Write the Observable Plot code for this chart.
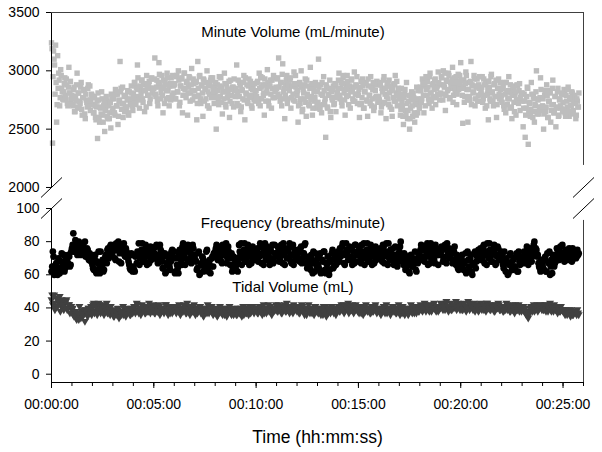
<!DOCTYPE html>
<html><head><meta charset="utf-8">
<script src="https://cdn.jsdelivr.net/npm/d3@7"></script>
<script src="https://cdn.jsdelivr.net/npm/@observablehq/plot@0.6"></script>
<style>body{margin:0;background:#fff}</style>
</head><body><div id="chart"></div>
<script>
// sampling: series A starts at 0 s, series B is offset by half a step
const mvStep = 3;
const brStep = 4;

// Minute Volume (mL/minute), A: every 3 s from 0 s
const minuteVolume = [
3240,2380,3170,3050,3220,2560,3130,2980,2700,3010,2850,2760,2820,2940,2760,2880,2700,3030,2810,2750,
2790,2700,2860,2650,2740,2980,2810,2680,2720,2900,2620,2770,2840,2590,2750,2690,2880,2730,2660,2800,
2710,2640,2780,2600,2690,2420,2750,2560,2680,2820,2620,2700,2480,2660,2740,2590,2700,2640,2510,2760,
2680,2760,2620,2800,2700,2540,2740,3080,2850,2720,2600,2780,2690,2660,2750,2640,2820,2730,2870,2700,
2800,2900,2740,2860,3050,2780,2680,2840,2920,2760,2880,2650,2830,2960,2790,2870,2720,2850,2940,2810,
2850,3110,2780,2920,2700,3070,2880,2810,2960,2640,2860,2900,2760,2980,2830,2700,2890,2940,2790,2870,
2880,2760,2950,2820,3000,2700,2870,2930,2640,2850,2980,2790,2900,2620,2860,2940,2810,3020,2750,2890,
2830,2900,2580,3080,2790,2960,2720,2870,2610,2920,2850,2760,3000,2820,2680,2890,2940,2780,2860,2720,
2800,2500,2880,2740,2950,2780,2860,2630,2820,2980,2710,2890,2770,2840,2600,2920,2790,2860,2690,2830,
2780,3050,2820,2700,2900,2650,2840,2760,2960,2580,2810,2880,2720,2930,2790,2850,2680,2870,2750,2820,
2830,2900,2760,2980,2700,2860,2940,2790,2620,2880,2810,3010,2740,2870,2920,2680,2850,2960,2770,2840,
2850,2940,3110,2780,2900,2700,3060,2820,2590,2880,2960,2760,2850,2920,2680,2870,2800,2990,2740,2860,
2790,2560,2880,2720,3000,2650,2840,2760,2930,2610,2800,2870,2700,3030,2780,2620,2850,2740,2900,2680,
2820,3100,2700,2880,2640,2790,2950,2730,2430,2860,2680,2800,2920,2600,2770,2840,2710,2890,2650,2810,
2850,2980,2760,2900,2700,2940,2810,2620,2880,2960,2790,2850,2680,2920,2830,2740,2990,2800,2870,2720,
2790,2600,2860,2720,2930,2680,2820,2900,2750,2610,2870,2790,2950,2700,2840,2660,2880,2770,2910,2730,
2780,2900,2640,2850,2720,2950,2800,2590,2870,2760,2920,2690,2830,2610,2880,2740,2960,2810,2700,2850,
2760,2620,2850,2700,2540,2800,2660,2900,2590,2740,2500,2680,2820,2610,2770,2560,2710,2860,2640,2730,
2700,2830,2760,2900,2640,2870,2950,2790,2860,2720,2980,2810,2680,2890,2840,2930,2770,2870,2990,2800,
2880,2950,2800,3000,2860,2660,2920,2830,2980,2760,2900,2850,3030,2790,2940,2870,2710,2910,2840,2960,
3070,2860,2550,2920,2780,2990,2840,2560,2900,2750,3080,2880,2810,2960,2700,2870,2930,2790,2850,2740,
2830,2950,2760,2880,2680,2910,2800,2580,2860,2740,2970,2820,2700,2890,2780,2600,2850,2930,2760,2840,
2790,2850,2700,2900,2640,2820,2760,2950,2680,2810,2590,2870,2730,2790,2620,2880,2750,2830,2660,2800,
2740,2520,2800,2430,2680,2860,2370,2720,2610,2900,2650,2780,2560,2700,3000,2630,2760,2690,2940,2660,
2700,2500,2790,2650,2880,2600,2740,2830,2560,2710,2920,2640,2780,2520,2690,2850,2620,2760,2680,2810,
2730,2840,2640,2790,2690,2860,2610,2750,2700,2810,2660,2770,2720,2620,2740,2690
];
// Minute Volume (mL/minute), B: every 3 s from 1.5 s
const minuteVolumeB = [
3190,2950,3100,2800,2900,2710,2850,2920,2770,2960,2820,2750,2890,2790,2930,2720,2860,2810,2910,2760,
2710,2840,2650,2780,2880,2690,2810,2740,2860,2670,2770,2830,2630,2800,2730,2850,2700,2870,2750,2790,
2770,2640,2700,2580,2740,2810,2600,2690,2630,2760,2560,2720,2670,2780,2610,2710,2590,2730,2800,2650,
2770,2640,2840,2700,2800,2610,2750,2820,2670,2860,2720,2650,2790,2690,2830,2620,2760,2710,2810,2660,
2770,2900,2710,2840,2940,2750,2870,2800,2920,2730,2830,2890,2690,2860,2790,2910,2760,2930,2810,2850,
2930,2800,2860,2740,2900,2970,2760,2850,2790,2920,2720,2880,2830,2940,2770,2870,2750,2890,2960,2810,
2890,2760,2960,2820,2920,2730,2870,2940,2790,2980,2840,2770,2910,2810,2950,2740,2880,2830,2930,2780,
2780,2910,2720,2850,2950,2760,2880,2810,2930,2740,2840,2900,2700,2870,2800,2920,2770,2940,2820,2860,
2900,2770,2830,2710,2870,2940,2730,2820,2760,2890,2690,2850,2800,2910,2740,2840,2720,2860,2930,2780,
2850,2720,2920,2780,2880,2690,2830,2900,2750,2940,2800,2730,2870,2770,2910,2700,2840,2790,2890,2740,
2780,2910,2720,2850,2950,2760,2880,2810,2930,2740,2840,2900,2700,2870,2800,2920,2770,2940,2820,2860,
2930,2800,2860,2740,2900,2970,2760,2850,2790,2920,2720,2880,2830,2940,2770,2870,2750,2890,2960,2810,
2830,2700,2900,2760,2860,2670,2810,2880,2730,2920,2780,2710,2850,2750,2890,2680,2820,2770,2870,2720,
2730,2860,2670,2800,2900,2710,2830,2760,2880,2690,2790,2850,2650,2820,2750,2870,2720,2890,2770,2810,
2920,2790,2850,2730,2890,2960,2750,2840,2780,2910,2710,2870,2820,2930,2760,2860,2740,2880,2950,2800,
2840,2710,2910,2770,2870,2680,2820,2890,2740,2930,2790,2720,2860,2760,2900,2690,2830,2780,2880,2730,
2750,2880,2690,2820,2920,2730,2850,2780,2900,2710,2810,2870,2670,2840,2770,2890,2740,2910,2790,2830,
2800,2670,2730,2610,2770,2840,2630,2720,2660,2790,2590,2750,2700,2810,2640,2740,2620,2760,2830,2680,
2860,2730,2930,2790,2890,2700,2840,2910,2760,2950,2810,2740,2880,2780,2920,2710,2850,2800,2900,2750,
2810,2940,2750,2880,2980,2790,2910,2840,2960,2770,2870,2930,2730,2900,2830,2950,2800,2970,2850,2890,
2920,2790,2850,2730,2890,2960,2750,2840,2780,2910,2710,2870,2820,2930,2760,2860,2740,2880,2950,2800,
2860,2730,2930,2790,2890,2700,2840,2910,2760,2950,2810,2740,2880,2780,2920,2710,2850,2800,2900,2750,
2730,2860,2670,2800,2900,2710,2830,2760,2880,2690,2790,2850,2650,2820,2750,2870,2720,2890,2770,2810,
2810,2680,2740,2620,2780,2850,2640,2730,2670,2800,2600,2760,2710,2820,2650,2750,2630,2770,2840,2690,
2760,2630,2830,2690,2790,2600,2740,2810,2660,2850,2710,2640,2780,2680,2820,2610,2750,2700,2800,2650,
2670,2800,2610,2740,2840,2650,2770,2700,2820,2630,2730,2790,2590,2760,2690,2810
];

// Frequency (breaths/minute), A: every 4 s from 0 s
const frequency = [
62,74,60,66,63,70,61,68,65,72,64,69,67,71,66,
76,85,74,79,72,80,77,73,78,75,71,76,70,73,68,
66,63,72,61,67,64,74,65,62,68,72,75,70,77,73,
74,78,69,76,80,73,67,75,79,71,74,70,66,63,72,
65,62,72,74,79,70,75,68,73,78,66,71,76,69,74,
76,72,78,67,71,75,68,64,73,62,66,70,63,74,71,
74,62,66,61,75,69,77,71,66,74,78,68,73,70,76,
72,68,64,74,61,67,70,63,66,75,62,69,65,71,73,
74,78,69,75,71,67,76,73,79,70,74,66,73,64,70,
64,70,67,74,79,70,75,68,73,78,66,71,76,69,74,
70,76,73,79,67,72,75,69,77,71,66,74,78,68,73,
73,77,68,75,72,79,66,74,70,76,71,67,78,73,69,
72,75,68,77,70,73,79,67,65,71,63,69,74,62,68,
70,64,73,62,68,74,61,66,71,63,69,75,65,72,67,
74,68,71,77,73,66,79,72,75,69,76,70,67,78,72,
72,77,67,74,79,70,75,68,73,78,66,71,76,69,74,
73,76,70,78,67,74,71,79,69,75,72,66,77,70,68,
74,80,70,66,72,64,69,62,67,71,65,68,63,70,73,
72,78,69,75,71,77,66,74,79,70,73,67,76,72,74,
74,77,68,76,71,79,73,70,75,67,74,69,72,64,68,
66,72,63,68,61,74,65,70,62,67,73,64,71,75,69,
75,69,78,72,66,74,79,71,68,76,73,67,77,70,72,
69,66,74,62,68,61,72,67,63,70,65,73,62,68,71,
71,67,73,69,75,70,72,68,74,80,76,71,67,64,69,
66,63,71,62,68,74,65,61,70,67,72,75,69,77,73,
72,68,75,71,74,69,73,76,70,74,71,72
];
// Frequency (breaths/minute), B: every 4 s from 2 s
const frequencyB = [
65,71,63,67,60,69,64,73,66,62,70,68,72,65,74,
78,74,81,76,75,79,72,77,74,80,73,75,69,72,71,
64,70,62,68,74,61,66,69,63,71,67,76,73,78,72,
76,70,79,75,68,77,74,78,72,76,71,68,64,73,62,
63,71,67,72,66,74,79,71,68,76,73,67,77,70,72,
73,77,69,72,78,74,64,71,61,67,72,65,68,75,70,
61,70,64,72,73,66,79,72,75,69,76,70,67,78,72,
69,63,73,60,66,71,62,68,74,64,67,61,70,65,72,
76,70,77,73,68,78,72,75,67,77,73,70,62,71,67,
66,62,78,72,66,74,79,71,68,76,73,67,77,70,72,
74,68,71,77,73,66,79,72,75,69,76,70,67,78,72,
71,75,69,78,67,73,76,70,74,79,68,72,66,75,71,
74,70,76,67,73,78,71,64,70,66,72,61,67,73,65,
66,72,61,69,74,63,67,71,60,68,73,64,70,66,72,
70,76,73,79,67,72,75,69,77,71,66,74,78,68,73,
75,69,78,72,66,74,79,71,68,76,73,67,77,70,72,
71,74,68,77,72,79,66,73,75,70,76,68,72,65,73,
77,71,68,73,63,70,66,61,72,65,69,74,62,67,71,
75,70,77,68,74,79,71,67,76,73,69,78,72,66,75,
72,75,70,78,67,74,76,71,73,68,77,66,70,63,69,
70,64,67,73,62,69,65,72,60,66,74,68,72,70,76,
72,77,67,74,79,70,75,68,73,78,66,71,76,69,74,
72,64,67,70,60,66,73,63,69,65,71,62,74,66,70,
68,74,70,77,66,73,76,71,78,73,75,72,65,62,68,
64,70,62,73,67,60,69,72,65,68,76,71,74,70,78,
70,74,69,73,76,71,68,74,72,70,75,73
];

// Tidal Volume (mL), A: every 4 s from 0 s
const tidalVolume = [
45,42,48,40,46,43,47,41,44,39,43,45,40,42,41,
39,36,38,34,37,33,36,38,35,37,39,36,40,38,41,
40,43,38,41,39,42,37,40,38,41,39,37,40,36,38,
37,35,38,36,39,35,37,38,36,39,37,40,38,36,39,
38,41,39,42,37,40,38,41,39,37,40,38,39,41,38,
39,37,40,38,41,37,39,38,40,42,38,39,37,40,38,
40,38,41,39,37,40,38,42,39,37,40,38,41,39,38,
38,40,37,39,41,38,36,39,40,37,39,38,41,37,39,
37,39,36,38,40,37,39,36,38,37,40,38,36,39,37,
38,36,39,37,40,38,36,39,37,38,41,37,39,38,40,
39,37,40,38,41,39,37,40,38,42,39,37,40,38,39,
40,38,41,39,37,40,42,38,39,41,38,40,37,39,41,
38,40,37,39,41,38,40,36,39,38,40,37,39,41,38,
39,37,40,38,36,39,41,38,37,40,38,39,37,40,38,
40,38,41,39,42,38,40,39,37,41,39,40,38,42,39,
38,40,37,39,41,38,40,38,39,37,40,38,41,39,38,
39,37,40,38,41,39,37,40,38,39,41,38,40,37,39,
38,40,37,39,36,38,40,37,39,38,41,37,39,40,38,
39,41,38,40,42,39,41,38,40,39,42,40,38,41,39,
40,42,39,41,43,40,38,41,39,42,40,41,39,43,40,
41,39,42,40,38,41,43,40,42,39,41,40,42,38,41,
40,42,39,41,43,40,42,39,41,40,38,41,40,42,39,
40,38,41,39,42,40,38,41,39,40,42,39,41,38,40,
39,41,38,36,35,38,40,39,41,38,40,42,39,41,40,
41,39,42,40,38,41,39,40,38,41,39,37,40,38,39,
38,37,39,36,38,37,39,36,37,38,36,37
];
// Tidal Volume (mL), B: every 4 s from 2 s
const tidalVolumeB = [
48,43,39,46,41,44,38,45,42,40,44,39,42,37,41,
40,35,38,33,37,41,34,36,39,32,38,35,40,37,36,
42,37,41,36,43,39,38,42,36,40,43,37,39,41,38,
35,39,37,40,34,38,36,41,37,35,39,38,36,40,37,
41,37,43,38,40,36,42,39,37,41,38,43,37,40,42,
37,41,38,42,36,39,40,37,42,38,36,41,39,37,40,
41,37,39,42,36,40,38,41,37,43,39,36,40,38,42,
36,40,38,41,37,39,35,40,38,42,37,39,41,36,40,
39,35,38,41,37,36,40,38,35,39,41,37,38,36,40,
36,40,37,39,35,41,38,37,40,36,39,38,41,37,39,
40,37,41,38,36,42,39,37,40,38,41,36,40,39,42,
38,42,39,37,41,40,38,43,39,37,41,38,42,39,40,
41,37,39,42,38,36,40,39,42,37,40,38,36,41,39,
37,40,36,39,41,38,35,40,39,37,41,38,40,36,39,
41,38,42,39,37,41,40,43,38,39,42,37,40,41,38,
37,41,39,36,40,42,38,39,37,41,38,40,42,37,39,
40,36,39,41,37,42,38,40,36,39,41,38,37,40,42,
36,39,41,37,40,38,36,39,42,37,38,40,37,41,38,
42,39,40,43,38,41,39,42,38,40,43,39,41,38,40,
43,40,42,39,44,41,40,43,39,42,41,44,40,42,39,
42,39,43,41,40,44,39,42,40,43,38,41,42,39,43,
39,42,41,38,43,40,39,42,41,38,42,40,43,39,41,
41,38,40,43,39,41,38,42,40,37,41,39,42,40,38,
41,38,40,36,34,37,41,38,42,39,41,38,40,42,39,
39,42,38,41,40,43,38,40,42,39,41,40,38,41,39,
39,36,38,37,39,35,38,36,38,37,39,36
];

// axis ticks
const xTicks = [0, 300, 600, 900, 1200, 1500];        // seconds
const xMinorTicks = d3.range(0, 1561, 60);
const yTicksLow = [0, 20, 40, 60, 80, 100];
const yTicksHigh = [2000, 2500, 3000, 3500];

// broken y axis: lower panel -5..100, upper panel 2000..3500
const lowPanel = [-5, 100];
const highPanel = [2000, 3500];
const gapUnits = 12.7;          // break gap, in lower-panel units
const highScale = 0.0704;       // upper-panel compression relative to lower panel
const breakY = v => v <= 1000 ? v : lowPanel[1] + gapUnits + (v - highPanel[0]) * highScale;

// series labels (placed in data coordinates: time s, value)
const seriesLabels = [
  {text: "Minute Volume (mL/minute)", t: 708, v: 3294},
  {text: "Frequency (breaths/minute)", t: 708, v: 88.5},
  {text: "Tidal Volume (mL)", t: 708, v: 49.4}
];

const mvData = [
  ...minuteVolume.map((v, i) => ({t: i * mvStep, v})),
  ...minuteVolumeB.map((v, i) => ({t: i * mvStep + mvStep / 2, v}))
];
const frData = [
  ...frequency.map((v, i) => ({t: i * brStep, v})),
  ...frequencyB.map((v, i) => ({t: i * brStep + brStep / 2, v}))
];
const tvData = [
  ...tidalVolume.map((v, i) => ({t: i * brStep, v})),
  ...tidalVolumeB.map((v, i) => ({t: i * brStep + brStep / 2, v}))
];

const fmt = s => [Math.floor(s / 3600), Math.floor(s / 60) % 60, s % 60]
  .map(d => String(d).padStart(2, "0")).join(":");

// y tick positions in the broken-axis coordinate, labelled with their data values
const yTickValues = [...yTicksLow, ...yTicksHigh];
const yTickPos = yTickValues.map(breakY);
const yTickLabel = new Map(yTickPos.map((p, i) => [p, String(yTickValues[i])]));

const slash = {draw(ctx) { ctx.moveTo(-10.5, 10); ctx.lineTo(10.5, -10); }};
const breaks = [{t: 0, v: 2000}, {t: 0, v: 100}, {t: 1560, v: 2000}, {t: 1560, v: 100}];

const chart = Plot.plot({
  width: 602, height: 452,
  marginLeft: 51, marginRight: 19, marginTop: 12, marginBottom: 70,
  style: {fontFamily: "'Liberation Sans', Arial, sans-serif", background: "white", color: "black"},
  x: {domain: [0, 1560], axis: null},
  y: {type: "linear", transform: breakY, domain: [lowPanel[0], breakY(highPanel[1])], axis: null},
  marks: [
    Plot.dot(mvData, {x: "t", y: "v", symbol: "square", r: 3.05, fill: "#bdbdbd", stroke: "none"}),
    Plot.dot(tvData, {x: "t", y: "v", symbol: "triangle", rotate: 180, r: 2.95, fill: "#404040", stroke: "none"}),
    Plot.dot(frData, {x: "t", y: "v", symbol: "circle", r: 3.35, fill: "#000", stroke: "none"}),
    // frame
    Plot.ruleX([{a: -5, b: 100}, {a: 2000, b: 3500}], {x: 0, y1: "a", y2: "b", stroke: "#000"}),
    Plot.ruleX([{a: -5, b: 92.8}, {a: 2189, b: 3500}], {x: 1560, y1: "a", y2: "b", stroke: "#404040"}),
    Plot.ruleY([-5], {x1: 0, x2: 1560, stroke: "#000"}),
    Plot.ruleY([3500], {x1: 0, x2: 1560, stroke: "#404040"}),
    Plot.dot(breaks, {x: "t", y: "v", symbol: slash, stroke: "#000", fill: "none", strokeWidth: 1}),
    // axes
    Plot.axisY({ticks: yTickPos, tickSize: 5, tickPadding: 7, fontSize: 14, tickFormat: d => yTickLabel.get(d)}),
    Plot.axisX({ticks: xTicks, tickSize: 6, tickPadding: 11, fontSize: 14, tickFormat: fmt, label: null}),
    Plot.axisX({ticks: xMinorTicks, tickSize: 4, tickFormat: () => "", label: null}),
    Plot.text(["Time (hh:mm:ss)"], {text: d => d, frameAnchor: "bottom", dy: 60, fontSize: 17.5, lineAnchor: "bottom"}),
    Plot.text(seriesLabels, {x: "t", y: "v", text: "text", fontSize: 15, lineAnchor: "bottom"})
  ]
});
document.getElementById("chart").appendChild(chart);
</script>
</body></html>
